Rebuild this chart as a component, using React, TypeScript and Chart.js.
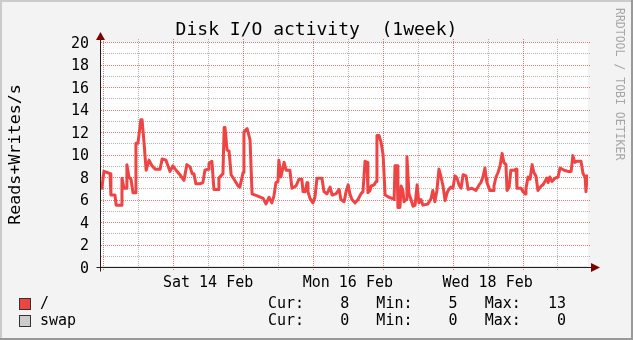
import React, { useEffect, useRef } from 'react';
import { Chart, registerables } from 'chart.js';

Chart.register(...registerables);

const TITLE = 'Disk I/O activity  (1week)';
const Y_LABEL = 'Reads+Writes/s';
const WATERMARK = 'RRDTOOL / TOBI OETIKER';

// time axis: hours since the start of the graph window
const WINDOW_HOURS = 167.3;
const FIRST_MIDNIGHT_H = 0.8;
const X_LABEL_HOURS = [36.8, 84.8, 132.8];
const X_LABELS = ['Sat 14 Feb', 'Mon 16 Feb', 'Wed 18 Feb'];

const Y_MIN = 0;
const Y_MAX = 20;
const Y_STEP = 2;

const SERIES_NAMES = ['/', 'swap'];
const SERIES_COLORS = ['#EE4444', '#CCCCCC'];

const rootHours = [
  0.3, 1.0, 2.1, 3.1, 3.4, 4.8, 5.2, 6.9, 7.2, 7.9,
  8.6, 8.9, 9.6, 10.3, 11.0, 11.7, 12.0, 12.7, 13.7, 14.1,
  14.8, 15.5, 16.5, 17.5, 18.6, 20.3, 21.0, 22.3, 23.0, 23.7,
  24.7, 25.8, 27.1, 28.5, 29.5, 30.6, 31.3, 31.9, 32.6, 34.0,
  35.0, 35.7, 36.8, 37.1, 38.1, 38.8, 40.2, 40.5, 41.2, 41.9,
  42.3, 42.6, 43.3, 44.0, 44.7, 45.7, 47.1, 47.7, 48.8, 49.1,
  50.2, 51.2, 51.9, 53.9, 55.7, 56.7, 57.7, 58.7, 59.4, 60.1,
  60.8, 61.1, 61.8, 62.9, 63.6, 64.9, 65.6, 67.0, 68.0, 69.0,
  69.4, 70.1, 70.8, 71.1, 71.8, 72.8, 73.5, 74.2, 75.9, 76.6,
  77.6, 78.7, 79.4, 80.7, 81.8, 82.4, 83.5, 84.2, 84.9, 85.5,
  86.2, 87.3, 88.3, 89.3, 90.0, 90.7, 91.4, 91.7, 92.4, 92.8,
  93.8, 94.5, 94.8, 95.5, 96.2, 96.9, 97.6, 98.9, 100.0, 100.7,
  101.0, 101.7, 102.0, 102.7, 103.1, 103.7, 104.1, 104.8, 105.1, 105.8,
  106.5, 107.2, 107.9, 108.6, 109.2, 109.9, 110.6, 112.3, 113.4, 114.0,
  114.7, 115.4, 116.1, 116.8, 117.5, 118.2, 118.9, 119.5, 120.2, 120.9,
  121.6, 122.3, 123.0, 123.7, 124.4, 125.4, 126.1, 127.4, 128.8, 129.9,
  130.5, 131.2, 131.9, 132.3, 132.6, 133.6, 134.7, 135.0, 135.7, 136.4,
  137.1, 137.8, 138.4, 139.1, 139.5, 140.2, 140.8, 141.9, 142.6, 142.9,
  144.3, 145.0, 145.7, 146.0, 146.7, 147.4, 148.1, 148.7, 149.4, 150.1,
  151.2, 151.8, 152.5, 153.2, 153.6, 154.2, 154.9, 156.0, 157.0, 157.7,
  159.1, 160.4, 161.5, 162.1, 162.8, 163.5, 164.9, 165.6, 166.3, 166.6,
  167.0, 167.3,
];

const rootValues = [
  7.0, 8.5, 8.4, 8.3, 6.4, 6.4, 5.5, 5.5, 7.9, 7.0,
  7.0, 9.1, 8.0, 7.8, 6.6, 6.6, 11.0, 11.0, 13.1, 13.1,
  11.0, 8.6, 9.5, 9.0, 8.7, 8.7, 9.6, 9.5, 9.0, 8.5,
  9.0, 8.6, 8.2, 7.7, 9.1, 8.9, 8.3, 8.3, 7.4, 7.4,
  7.5, 8.6, 8.7, 9.2, 9.4, 6.9, 6.9, 7.9, 8.1, 8.3,
  12.4, 12.4, 10.4, 10.3, 8.2, 7.8, 7.2, 7.1, 8.4, 12.0,
  12.3, 11.3, 6.5, 6.3, 6.1, 5.6, 6.2, 5.7, 6.3, 7.5,
  7.6, 9.5, 8.0, 9.3, 8.6, 8.6, 7.0, 7.2, 7.8, 7.8,
  6.7, 6.7, 7.5, 6.7, 6.1, 5.7, 6.2, 7.9, 7.9, 6.7,
  6.5, 7.1, 6.4, 6.5, 6.9, 6.0, 5.8, 6.7, 7.3, 6.5,
  6.0, 5.7, 6.0, 6.5, 6.7, 9.4, 9.3, 6.6, 6.8, 7.2,
  7.3, 7.6, 11.7, 11.7, 11.1, 10.0, 6.4, 6.2, 6.1, 6.0,
  9.0, 9.0, 5.3, 5.3, 7.2, 6.8, 5.8, 6.0, 9.8, 6.5,
  6.0, 5.4, 5.5, 7.3, 5.7, 6.0, 5.5, 5.6, 6.1, 6.8,
  5.8, 6.8, 8.7, 8.0, 7.2, 5.9, 6.6, 6.9, 7.1, 7.0,
  8.1, 7.9, 7.3, 7.0, 8.2, 8.1, 6.9, 7.0, 6.8, 7.3,
  7.5, 8.0, 8.8, 7.9, 7.5, 6.8, 6.8, 7.2, 8.0, 8.4,
  9.0, 10.1, 9.3, 9.1, 6.8, 7.1, 8.6, 8.6, 8.7, 7.0,
  7.0, 6.7, 6.5, 7.0, 8.0, 7.8, 9.1, 8.4, 8.1, 6.8,
  7.2, 7.3, 7.6, 7.9, 7.5, 8.0, 7.6, 7.9, 8.0, 8.8,
  8.6, 8.5, 8.5, 9.9, 9.3, 9.4, 9.4, 8.3, 8.0, 6.7,
  8.1, 8.0,
];

const swapHours = [0, 167.3];
const swapValues = [0, 0];

const MONO = 'DejaVu Sans Mono';

function fmt(v: number) {
  return Math.round(v).toFixed(0).padStart(5, ' ');
}
function statsLine(vals: number[]) {
  const cur = vals[vals.length - 1];
  const min = Math.min(...vals);
  const max = Math.max(...vals);
  return `Cur:${fmt(cur)}   Min:${fmt(min)}   Max:${fmt(max)}`;
}

const rrdPlugin = {
  id: 'rrdLook',
  beforeDraw(chart: any) {
    const { ctx, width, height, chartArea: ca } = chart;
    ctx.save();
    ctx.fillStyle = '#f3f3f3';
    ctx.fillRect(0, 0, width, height);
    ctx.fillStyle = '#cbcbcb';
    ctx.fillRect(0, 0, width, 2);
    ctx.fillRect(0, 0, 2, height);
    ctx.fillStyle = '#999999';
    ctx.fillRect(0, height - 2, width, 2);
    ctx.fillRect(width - 2, 0, 2, height);
    ctx.fillStyle = '#ffffff';
    ctx.fillRect(ca.left, ca.top, ca.right - ca.left, ca.bottom - ca.top);
    ctx.restore();
  },
  beforeDatasetsDraw(chart: any) {
    const { ctx, chartArea: ca } = chart;
    const xs = chart.scales.x;
    const ys = chart.scales.y;
    const minorColor = 'rgba(128,128,128,0.6)';
    const majorColor = 'rgba(232,45,45,0.66)';
    ctx.save();
    ctx.lineWidth = 1;
    ctx.setLineDash([1, 1]);
    const vline = (h: number, color: string) => {
      const px = Math.round(xs.getPixelForValue(h)) + 0.5;
      ctx.strokeStyle = color;
      ctx.beginPath();
      ctx.moveTo(px, ca.top - 3);
      ctx.lineTo(px, ca.bottom + 3);
      ctx.stroke();
    };
    const hline = (v: number, color: string) => {
      const py = Math.round(ys.getPixelForValue(v)) + 0.5;
      ctx.strokeStyle = color;
      ctx.beginPath();
      ctx.moveTo(ca.left, py);
      ctx.lineTo(ca.right + 2, py);
      ctx.stroke();
    };
    for (let v = Y_MIN + Y_STEP / 2; v < Y_MAX; v += Y_STEP) hline(v, minorColor);
    for (let h = FIRST_MIDNIGHT_H + 12; h < WINDOW_HOURS; h += 24) vline(h, minorColor);
    for (let v = Y_MIN + Y_STEP; v <= Y_MAX; v += Y_STEP) hline(v, majorColor);
    for (let h = FIRST_MIDNIGHT_H; h < WINDOW_HOURS; h += 24) vline(h, majorColor);
    ctx.restore();
  },
  afterDatasetsDraw(chart: any) {
    const { ctx, chartArea: ca } = chart;
    const ys = chart.scales.y;
    const ax = Math.round(ca.left) - 0.5;
    const ay = Math.round(ys.getPixelForValue(0)) + 0.5;
    ctx.save();
    ctx.strokeStyle = '#1f1f1f';
    ctx.lineWidth = 1;
    ctx.beginPath();
    ctx.moveTo(ax - 4, ay);
    ctx.lineTo(ca.right + 3, ay);
    ctx.moveTo(ax, ay + 4);
    ctx.lineTo(ax, ca.top - 2);
    ctx.stroke();
    ctx.fillStyle = '#7f0000';
    ctx.beginPath();
    ctx.moveTo(ax, ca.top - 10);
    ctx.lineTo(ax + 4.5, ca.top - 2);
    ctx.lineTo(ax - 4.5, ca.top - 2);
    ctx.closePath();
    ctx.fill();
    ctx.beginPath();
    ctx.moveTo(ca.right + 12, ay);
    ctx.lineTo(ca.right + 3, ay - 4.5);
    ctx.lineTo(ca.right + 3, ay + 4.5);
    ctx.closePath();
    ctx.fill();
    ctx.restore();
  },
  afterDraw(chart: any) {
    const { ctx, width, chartArea: ca } = chart;
    ctx.save();
    ctx.fillStyle = '#000';
    ctx.font = `18px '${MONO}'`;
    ctx.textAlign = 'center';
    ctx.textBaseline = 'alphabetic';
    ctx.fillText(TITLE, width / 2, 35);

    ctx.save();
    ctx.translate(15.5, (ca.top + ca.bottom) / 2);
    ctx.rotate(-Math.PI / 2);
    ctx.font = `16.7px '${MONO}'`;
    ctx.textAlign = 'center';
    ctx.textBaseline = 'middle';
    ctx.fillText(Y_LABEL, 0, 0);
    ctx.restore();

    ctx.save();
    ctx.translate(618.5, 8);
    ctx.rotate(Math.PI / 2);
    ctx.font = `11.5px '${MONO}'`;
    ctx.fillStyle = '#a6a6a6';
    ctx.textAlign = 'left';
    ctx.textBaseline = 'middle';
    ctx.fillText(WATERMARK, 0, 0);
    ctx.restore();

    const rows = [
      { y: 304.5, vals: rootValues },
      { y: 321.5, vals: swapValues },
    ];
    ctx.font = `15px '${MONO}'`;
    ctx.textAlign = 'left';
    ctx.textBaseline = 'middle';
    rows.forEach((r, i) => {
      ctx.fillStyle = SERIES_COLORS[i];
      ctx.fillRect(20, r.y - 5.5, 10, 10);
      ctx.strokeStyle = '#333';
      ctx.lineWidth = 1;
      ctx.strokeRect(19.5, r.y - 6, 11, 11);
      ctx.fillStyle = '#000';
      ctx.fillText(SERIES_NAMES[i], 40, r.y);
      ctx.fillText(statsLine(r.vals), 268, r.y);
    });
    ctx.restore();
  },
};

export default function App() {
  const ref = useRef<HTMLCanvasElement>(null);
  useEffect(() => {
    if (!ref.current) return;
    const chart = new Chart(ref.current, {
      type: 'line',
      data: {
        datasets: [
          {
            label: SERIES_NAMES[1],
            data: swapHours.map((h, i) => ({ x: h, y: swapValues[i] })),
            borderColor: SERIES_COLORS[1],
            borderWidth: 1,
            pointRadius: 0,
            tension: 0,
          },
          {
            label: SERIES_NAMES[0],
            data: rootHours.map((h, i) => ({ x: h, y: rootValues[i] })),
            borderColor: SERIES_COLORS[0],
            borderWidth: 3,
            borderJoinStyle: 'round',
            borderCapStyle: 'round',
            pointRadius: 0,
            tension: 0,
          },
        ],
      },
      plugins: [rrdPlugin],
      options: {
        responsive: false,
        maintainAspectRatio: false,
        devicePixelRatio: 1,
        animation: false,
        events: [],
        layout: { padding: { left: 0, top: 42, right: 45, bottom: 0 } },
        plugins: { legend: { display: false }, tooltip: { enabled: false }, title: { display: false } },
        scales: {
          x: {
            type: 'linear',
            min: 0,
            max: WINDOW_HOURS,
            grid: { display: false, drawTicks: false },
            border: { display: false },
            afterFit: (s: any) => { s.height = 73; },
            afterBuildTicks: (s: any) => { s.ticks = X_LABEL_HOURS.map((v) => ({ value: v })); },
            ticks: {
              autoSkip: false,
              maxRotation: 0,
              padding: 7,
              color: '#000',
              font: { family: MONO, size: 15 },
              callback: (_v: any, i: number) => X_LABELS[i],
            },
          },
          y: {
            min: Y_MIN,
            max: Y_MAX,
            grid: { display: false, drawTicks: false },
            border: { display: false },
            afterFit: (s: any) => { s.width = 101; },
            ticks: {
              stepSize: Y_STEP,
              padding: 12,
              labelOffset: 2,
              color: '#000',
              font: { family: MONO, size: 15 },
            },
          },
        },
      },
    } as any);
    return () => chart.destroy();
  }, []);
  return (
    <div style={{ position: 'absolute', left: 0, top: 0, width: 633, height: 340 }}>
      <canvas ref={ref} width={633} height={340} style={{ display: 'block', width: 633, height: 340 }} />
    </div>
  );
}
